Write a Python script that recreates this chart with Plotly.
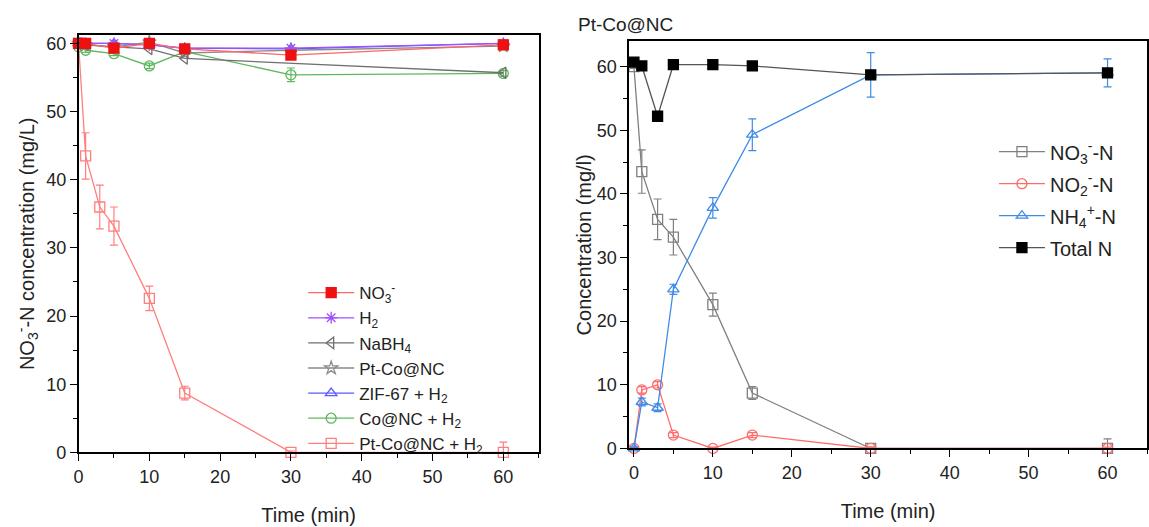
import plotly.graph_objects as go

# ---------------- Left panel data ----------------
t_full = [0, 1, 3, 5, 10, 15, 30, 60]
t_ctrl = [0, 1, 5, 10, 15, 30, 60]

no3_only = [60.0, 60.0, 59.3, 60.0, 59.2, 58.3, 59.8]
h2_only = [60.0, 60.0, 60.0, 59.8, 59.3, 59.3, 60.0]
t_nabh4 = [0, 1, 5, 10, 15, 60]
nabh4 = [60.0, 59.8, 59.5, 59.2, 57.8, 55.7]
ptco_only = [60.0, 59.8, 59.5, 60.2, 58.6, 59.0, 59.6]
zif67_h2 = [60.0, 60.0, 60.0, 59.8, 59.3, 59.2, 60.0]
conc_h2 = [59.5, 59.0, 58.5, 56.7, 58.8, 55.4, 55.6]
conc_h2_err = [0.3, 0.3, 0.3, 0.4, 0.3, 1.0, 0.4]
ptco_h2 = [60.0, 43.5, 36.0, 33.2, 22.6, 8.7, 0.0, 0.0]
ptco_h2_err = [0.3, 3.4, 3.2, 2.8, 1.8, 1.0, 0.2, 1.5]

# ---------------- Right panel data ----------------
no3_n = [60.0, 43.5, 36.0, 33.2, 22.6, 8.7, 0.0, 0.0]
no3_n_err = [0.3, 3.4, 3.2, 2.8, 1.8, 1.0, 0.2, 1.5]
no2_n = [0.0, 9.2, 10.0, 2.1, 0.0, 2.1, 0.0, 0.0]
no2_n_err = [0.2, 0.5, 0.5, 0.4, 0.2, 0.4, 0.2, 0.2]
nh4_n = [0.0, 7.3, 6.4, 25.0, 37.8, 49.3, 58.7, 59.0]
nh4_n_err = [0.2, 0.6, 0.6, 0.8, 1.6, 2.5, 3.5, 2.2]
total_n = [60.7, 60.1, 52.2, 60.3, 60.3, 60.1, 58.7, 59.0]

FONT = "Liberation Sans, Arial, sans-serif"

fig = go.Figure()


def add(x, y, name, color, symbol, xa, ya, legend, err=None, size=10,
        linecolor=None, group=None):
    kw = {}
    if err is not None:
        kw["error_y"] = dict(type="data", array=err, visible=True,
                             color=color, thickness=1.2, width=4)
    fig.add_trace(go.Scatter(
        x=x, y=y, name=name, mode="lines+markers",
        line=dict(color=linecolor or color, width=1.3),
        marker=dict(symbol=symbol, size=size, color=color,
                    line=dict(color=color, width=1.3)),
        xaxis=xa, yaxis=ya, legend=legend, legendgroup=group,
        cliponaxis=False, **kw))


# left panel (draw back-to-front; legend shown reversed)
add(t_full, ptco_h2, "Pt-Co@NC + H<sub>2</sub>", "#ff7f7f", "square-open",
    "x", "y", "legend", err=ptco_h2_err)
add(t_ctrl, conc_h2, "Co@NC + H<sub>2</sub>", "#5cb85c", "circle-open",
    "x", "y", "legend", err=conc_h2_err)
add(t_ctrl, zif67_h2, "ZIF-67 + H<sub>2</sub>", "#5a5aff", "triangle-up-open",
    "x", "y", "legend")
add(t_ctrl, ptco_only, "Pt-Co@NC", "#8a8a8a", "star-open",
    "x", "y", "legend")
add(t_nabh4, nabh4, "NaBH<sub>4</sub>", "#707070", "triangle-left-open",
    "x", "y", "legend")
add(t_ctrl, h2_only, "H<sub>2</sub>", "#a050ff", "asterisk-open",
    "x", "y", "legend")
add(t_ctrl, no3_only, "NO<sub>3</sub><sup>-</sup>", "#ee1111", "square",
    "x", "y", "legend", linecolor="#ff6666")

# right panel
add(t_full, no3_n, "NO<sub>3</sub><sup>-</sup>-N", "#808080", "square-open",
    "x2", "y2", "legend2", err=no3_n_err, group="a")
add(t_full, no2_n, "NO<sub>2</sub><sup>-</sup>-N", "#ff6b6b", "circle-open",
    "x2", "y2", "legend2", err=no2_n_err, group="b")
add(t_full, nh4_n, "NH<sub>4</sub><sup>+</sup>-N", "#3f8be6", "triangle-up-open",
    "x2", "y2", "legend2", err=nh4_n_err, group="c")
add(t_full, total_n, "Total N", "#000000", "square",
    "x2", "y2", "legend2", linecolor="#555555", group="d")

axis_common = dict(
    showline=True, linecolor="black", linewidth=1.5, mirror=True,
    ticks="outside", ticklen=7, tickwidth=1.3, tickcolor="black",
    showgrid=False, zeroline=False,
    tickfont=dict(family=FONT, size=18, color="#222"),
    minor=dict(ticks="outside", ticklen=4, tickwidth=1.2, tickcolor="black",
               dtick=5, showgrid=False),
)

fig.update_layout(
    width=1149, height=527, margin=dict(l=0, r=0, t=0, b=0),
    paper_bgcolor="white", plot_bgcolor="white",
    font=dict(family=FONT, color="#222"),
    xaxis=dict(domain=[74 / 1149, 537 / 1149], range=[0, 65],
               tick0=0, dtick=10, anchor="y",
               title=dict(text="Time (min)", font=dict(size=20), standoff=22),
               **axis_common),
    yaxis=dict(domain=[1 - 461 / 527, 1 - 35 / 527], range=[0, 61.2],
               tick0=0, dtick=10, anchor="x",
               title=dict(text="NO<sub>3</sub><sup>-</sup>-N concentration (mg/L)",
                          font=dict(size=20), standoff=6),
               **axis_common),
    xaxis2=dict(domain=[628 / 1149, 1.0], range=[-0.6, 65],
                tick0=0, dtick=10, anchor="y2",
                title=dict(text="Time (min)", font=dict(size=20), standoff=22),
                **axis_common),
    yaxis2=dict(domain=[1 - 457 / 527, 1 - 41 / 527], range=[0, 64],
                tick0=0, dtick=10, anchor="x2",
                title=dict(text="Concentration (mg/l)", font=dict(size=20),
                           standoff=0),
                **axis_common),
    legend=dict(x=300 / 1149, y=1 - 280 / 527, xanchor="left", yanchor="top",
                font=dict(family=FONT, size=17, color="#222"),
                bgcolor="rgba(0,0,0,0)", itemwidth=46, traceorder="reversed",
                tracegroupgap=0),
    legend2=dict(x=995 / 1149, y=1 - 134 / 527, xanchor="left", yanchor="top",
                 font=dict(family=FONT, size=20, color="#222"),
                 bgcolor="rgba(0,0,0,0)", itemwidth=46, traceorder="grouped",
                 tracegroupgap=3),
    annotations=[dict(text="Pt-Co@NC", x=574 / 1149, y=1 - 24 / 527,
                      xref="paper", yref="paper", xanchor="left",
                      yanchor="middle", showarrow=False,
                      font=dict(family=FONT, size=19, color="#222"))],
)

fig.write_html("out.html")
